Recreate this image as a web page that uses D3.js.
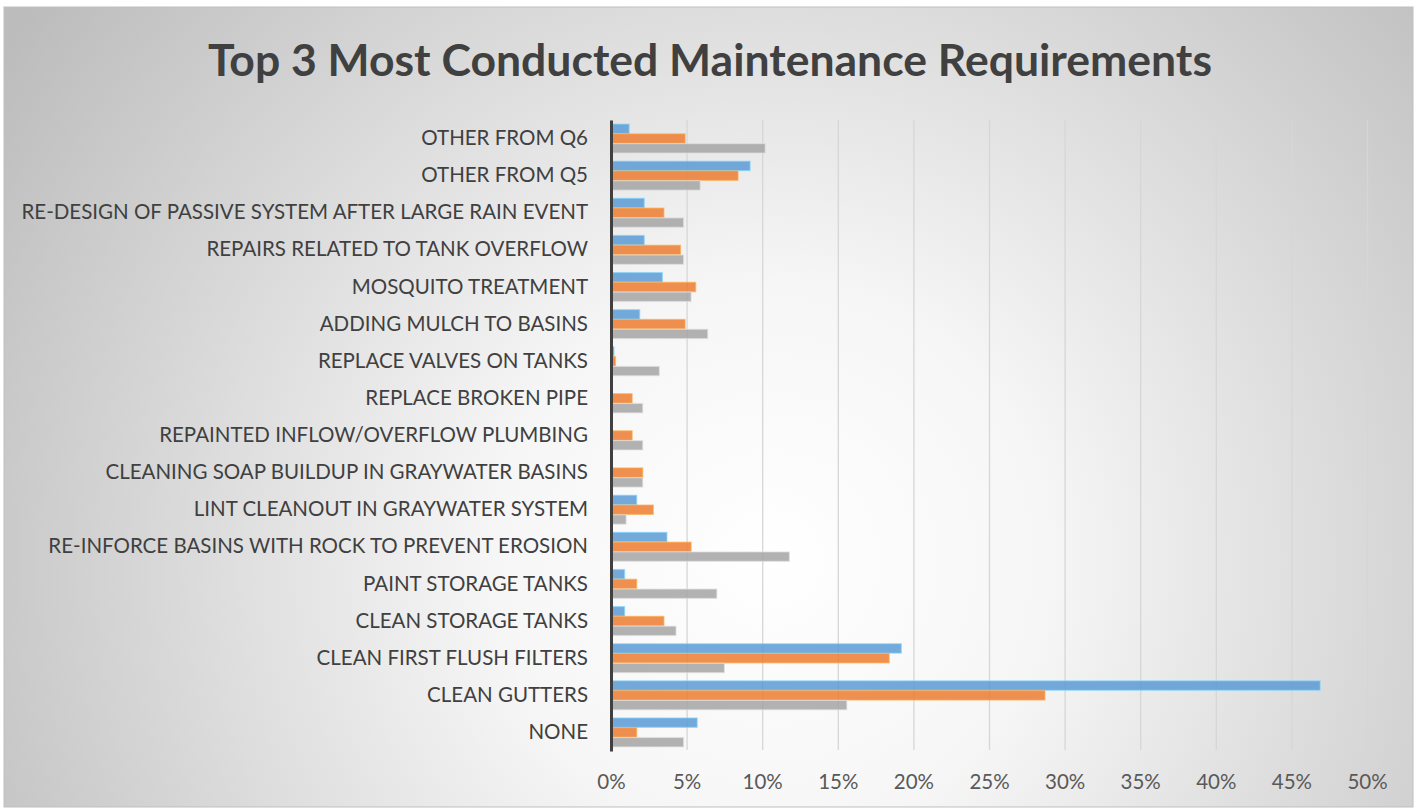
<!DOCTYPE html>
<html>
<head>
<meta charset="utf-8">
<script src="https://cdn.jsdelivr.net/npm/d3@7"></script>
<style>
  html, body { margin: 0; padding: 0; background: #fff; }
  svg { display: block; }
</style>
</head>
<body>
<svg id="chart" width="1419" height="808"></svg>
<script>
// categories, top to bottom
const categories = [
  "OTHER FROM Q6",
  "OTHER FROM Q5",
  "RE-DESIGN OF PASSIVE SYSTEM AFTER LARGE RAIN EVENT",
  "REPAIRS RELATED TO TANK OVERFLOW",
  "MOSQUITO TREATMENT",
  "ADDING MULCH TO BASINS",
  "REPLACE VALVES ON TANKS",
  "REPLACE BROKEN PIPE",
  "REPAINTED INFLOW/OVERFLOW PLUMBING",
  "CLEANING SOAP BUILDUP IN GRAYWATER BASINS",
  "LINT CLEANOUT IN GRAYWATER SYSTEM",
  "RE-INFORCE BASINS WITH ROCK TO PREVENT EROSION",
  "PAINT STORAGE TANKS",
  "CLEAN STORAGE TANKS",
  "CLEAN FIRST FLUSH FILTERS",
  "CLEAN GUTTERS",
  "NONE"
];

// percent values per series
const seriesNames = ["1st", "2nd", "3rd"];
const first  = [1.2, 9.2, 2.2, 2.2, 3.4, 1.9, 0.2, 0, 0, 0, 1.7, 3.7, 0.9, 0.9, 19.2, 46.9, 5.7];
const second = [4.9, 8.4, 3.5, 4.6, 5.6, 4.9, 0.3, 1.4, 1.4, 2.1, 2.8, 5.3, 1.7, 3.5, 18.4, 28.7, 1.7];
const third  = [10.2, 5.9, 4.8, 4.8, 5.3, 6.4, 3.2, 2.1, 2.1, 2.1, 1.0, 11.8, 7.0, 4.3, 7.5, 15.6, 4.8];

const xTicks = [0, 5, 10, 15, 20, 25, 30, 35, 40, 45, 50];

const seriesValues = [first, second, third];
const colors = d3.scaleOrdinal(seriesNames, ["#5b9bd5", "#ed7d31", "#a5a5a5"]);

const svg = d3.select("#chart");
const plotLeft = 611, plotRight = 1367, plotTop = 120, plotBottom = 751;

// background gradients
const defs = svg.append("defs");
const bg = defs.append("radialGradient")
  .attr("id", "bg")
  .attr("gradientUnits", "userSpaceOnUse")
  .attr("cx", 770).attr("cy", 560).attr("r", 920);
bg.append("stop").attr("offset", 0).attr("stop-color", "#ffffff");
bg.append("stop").attr("offset", 0.3).attr("stop-color", "#f6f6f6");
bg.append("stop").attr("offset", 1).attr("stop-color", "#bcbcbc");

const gridGrad = defs.append("linearGradient")
  .attr("id", "gridGrad")
  .attr("gradientUnits", "userSpaceOnUse")
  .attr("x1", 0).attr("x2", 0).attr("y1", plotTop).attr("y2", 750);
gridGrad.append("stop").attr("offset", 0).attr("stop-color", "#d6d6d6");
gridGrad.append("stop").attr("offset", 1).attr("stop-color", "#8c8c8c");

svg.append("rect")
  .attr("x", 4).attr("y", 7)
  .attr("width", 1409).attr("height", 800)
  .attr("fill", "url(#bg)")
  .attr("stroke", "#bfbfbf")
  .attr("stroke-width", 1);

// title
svg.append("text")
  .attr("x", 710)
  .attr("y", 76)
  .attr("text-anchor", "middle")
  .attr("font-family", "Lato, 'Open Sans', sans-serif")
  .attr("font-weight", "bold")
  .attr("font-size", 44.5)
  .attr("fill", "#404040")
  .text("Top 3 Most Conducted Maintenance Requirements");

// scales
const x = d3.scaleLinear().domain([0, 50]).range([plotLeft, plotRight]);
const y0 = d3.scaleBand().domain(categories).range([plotTop, plotBottom])
  .paddingInner(0.22).paddingOuter(0.11);
const y1 = d3.scaleBand().domain(seriesNames).range([0, y0.bandwidth()]).paddingInner(0.04);

// gridlines + tick labels
const xAxis = svg.append("g")
  .attr("transform", "translate(0," + 750 + ")")
  .call(d3.axisBottom(x)
    .tickValues(xTicks)
    .tickSize(-(750 - plotTop))
    .tickPadding(24)
    .tickFormat(function (d) { return d + "%"; }));
xAxis.select(".domain").remove();
xAxis.selectAll(".tick line")
  .attr("stroke", "url(#gridGrad)")
  .attr("stroke-width", 1.3);
xAxis.selectAll(".tick text")
  .attr("font-family", "Lato, sans-serif")
  .attr("font-size", 20.5)
  .attr("fill", "#595959");

// bars
const groups = svg.append("g")
  .selectAll("g")
  .data(categories)
  .enter()
  .append("g")
  .attr("transform", function (d) { return "translate(0," + y0(d) + ")"; });

groups.selectAll("rect")
  .data(function (d, i) {
    return seriesNames.map(function (s, j) {
      return { series: s, value: seriesValues[j][i] };
    }).filter(function (d) { return d.value > 0; });
  })
  .enter()
  .append("rect")
  .attr("x", x(0))
  .attr("y", function (d) { return y1(d.series); })
  .attr("width", function (d) { return x(d.value) - x(0); })
  .attr("height", y1.bandwidth())
  .attr("fill", function (d) { return colors(d.series); })
  .attr("fill-opacity", 0.85)
  .attr("stroke", function (d) { return d3.color(colors(d.series)).brighter(0.9); })
  .attr("stroke-opacity", 0.6)
  .attr("stroke-width", 1.2);

// category axis
const yAxis = svg.append("g")
  .attr("transform", "translate(" + plotLeft + ",0)")
  .call(d3.axisLeft(y0).tickSize(0).tickSizeOuter(0).tickPadding(23));
yAxis.select(".domain")
  .attr("stroke", "#404040")
  .attr("stroke-width", 3);
yAxis.selectAll(".tick text")
  .attr("font-family", "Lato, sans-serif")
  .attr("font-size", 20.5)
  .attr("fill", "#404040");
</script>
</body>
</html>
